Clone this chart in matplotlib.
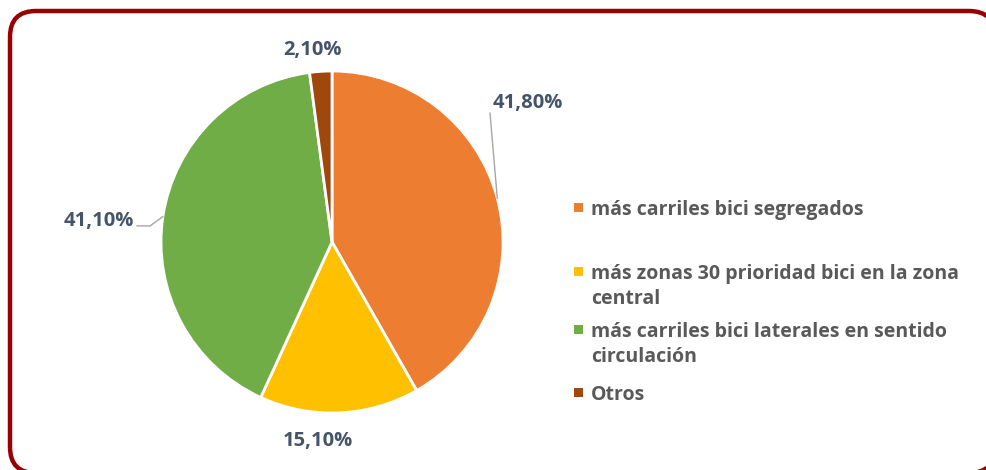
#!/usr/bin/env python3
# -*- coding: utf-8 -*-
import numpy as np
import matplotlib
matplotlib.use("Agg")
import matplotlib.pyplot as plt
from matplotlib.patches import FancyBboxPatch, Rectangle

# data
categories = ["más carriles bici segregados",
              "más zonas 30 prioridad bici en la zona central",
              "más carriles bici laterales en sentido circulación",
              "Otros"]
legend_lines = [["más carriles bici segregados"],
                ["más zonas 30 prioridad bici en la zona", "central"],
                ["más carriles bici laterales en sentido", "circulación"],
                ["Otros"]]
values = [41.8, 15.1, 41.1, 2.1]
colors = ["#ED7D31", "#FFC000", "#70AD47", "#9E480E"]

W, H = 986, 470
plt.rcParams['font.family'] = ['Open Sans', 'DejaVu Sans']
fig = plt.figure(figsize=(W / 100, H / 100), dpi=100)

# background axes in pixel units (y down) for frame and legend
bg = fig.add_axes([0, 0, 1, 1])
bg.set_xlim(0, W)
bg.set_ylim(H, 0)
bg.axis("off")
# filled (white) so Agg does not clip the curved outline at the canvas edge
bg.add_patch(FancyBboxPatch((10, 11), 985, 462,
                            boxstyle="round,pad=0,rounding_size=26",
                            facecolor="white", edgecolor="#990000",
                            linewidth=3.2))

# pie: centre (332, 242) px, radius 171 px
cx, cy, r = 332, 242, 171
ax = fig.add_axes([(cx - r) / W, (H - cy - r) / H, 2 * r / W, 2 * r / H])
wedges, _ = ax.pie(values, colors=colors, startangle=90, counterclock=False,
                   radius=1, wedgeprops=dict(edgecolor="white", linewidth=2))
ax.set_xlim(-1, 1)
ax.set_ylim(-1, 1)
ax.set_aspect("equal")
ax.axis("off")

label_color = "#44546A"
line_color = "#A6A6A6"
# label placement (in pie units) per slice
label_pos = [(1.146, 0.813, "center"), (-0.082, -1.164, "center"),
             (-1.16, 0.123, "right"), (-0.111, 1.123, "center")]
for w, v, (lx, ly, ha) in zip(wedges, values, label_pos):
    txt = "{:.2f}%".format(v).replace(".", ",")
    ax.text(lx, ly, txt, ha=ha, va="center", fontsize=14.5, fontweight="bold",
            color=label_color, clip_on=False)

# leader lines
def edge_point(w):
    a = np.deg2rad((w.theta1 + w.theta2) / 2)
    return np.cos(a), np.sin(a)

ex, ey = edge_point(wedges[0])
ax.plot([ex, 0.924], [ey, 0.754], color=line_color, lw=1, clip_on=False)
ex, ey = edge_point(wedges[2])
ax.plot([ex, -1.064, -1.14], [ey, 0.094, 0.094], color=line_color, lw=1,
        clip_on=False)

# legend
legend_color = "#595959"
baselines = [215, 279, 337, 400]
line_gap = 25
for lines, c, yb in zip(legend_lines, colors, baselines):
    bg.add_patch(Rectangle((574, yb - 12), 9, 9, facecolor=c, edgecolor="none"))
    for k, t in enumerate(lines):
        bg.text(591, yb + k * line_gap, t, ha="left", va="baseline",
                fontsize=14, fontweight="bold", color=legend_color)

fig.savefig("out.png", dpi=100)
